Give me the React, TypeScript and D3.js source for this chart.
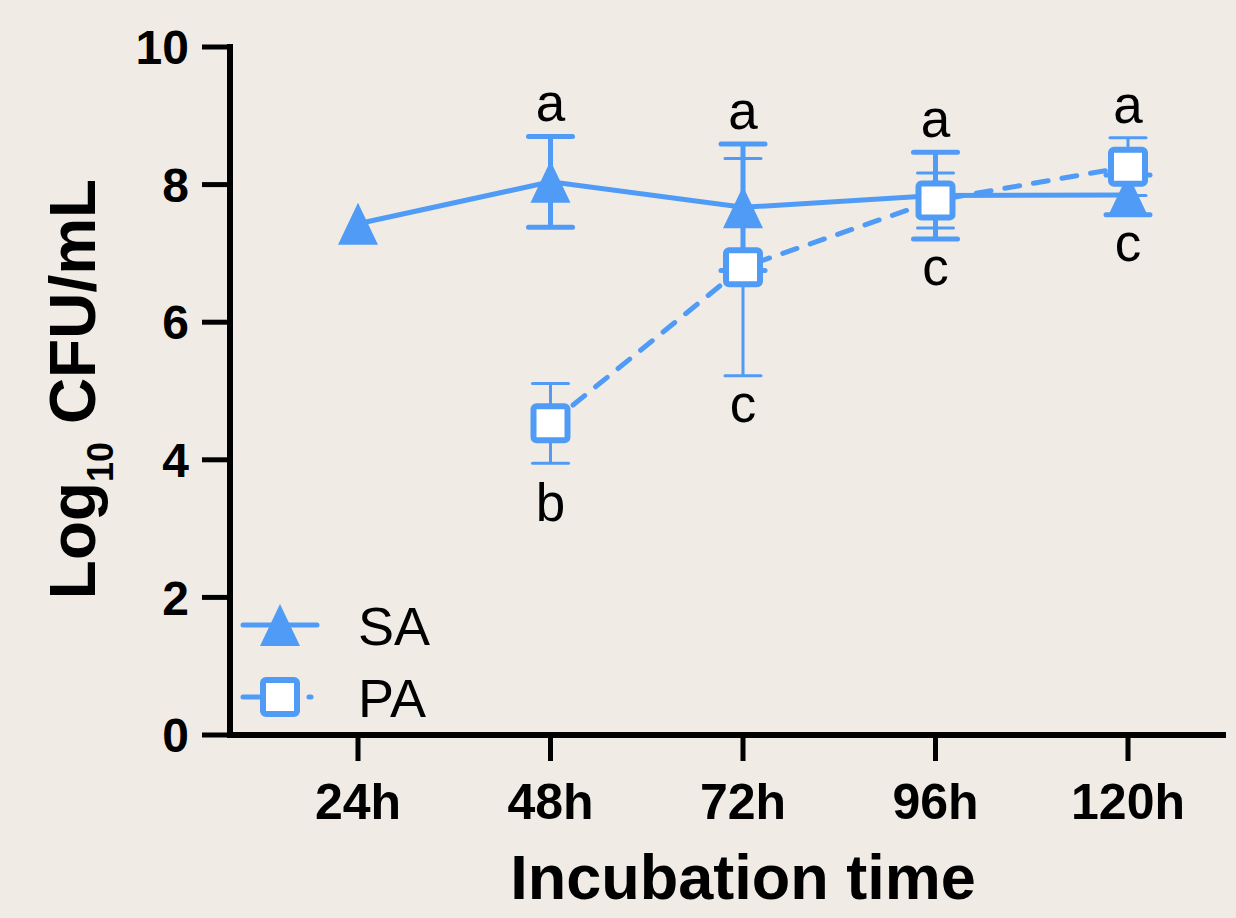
import React from 'react';
import * as d3 from 'd3';

const categories = ['24h', '48h', '72h', '96h', '120h'];
const saMean: (number | null)[] = [7.43, 8.04, 7.67, 7.84, 7.85];
const saErr: (number | null)[] = [0, 0.66, 0.92, 0.63, 0.29];
const paMean: (number | null)[] = [null, 4.53, 6.8, 7.77, 8.26];
const paErr: (number | null)[] = [null, 0.58, 1.58, 0.4, 0.42];
const topLetters = ['', 'a', 'a', 'a', 'a'];
const bottomLetters = ['', 'b', 'c', 'c', 'c'];
const yTicks = [0, 2, 4, 6, 8, 10];
const seriesNames = ['SA', 'PA'];

const W = 1236;
const H = 918;
const BG = '#f0ece5';
const BLUE = '#4f9bf6';

export default function App() {
  const x = d3.scalePoint<string>().domain(categories).range([358, 1128]);
  const y = d3.scaleLinear().domain([0, 10]).range([735, 47]);

  const pts = (means: (number | null)[]) =>
    means
      .map((m, i) => (m == null ? null : ([x(categories[i])!, y(m)] as [number, number])))
      .filter((p): p is [number, number] => p !== null);

  const line = d3.line<[number, number]>();
  const saPath = line(pts(saMean))!;
  const paPath = line(pts(paMean))!;

  const triPath = (cx: number, cy: number) =>
    `M${cx},${cy - 21} L${cx + 20},${cy + 21} L${cx - 20},${cy + 21} Z`;

  const font = '"Liberation Sans", Arial, Helvetica, sans-serif';

  const errBars = (
    means: (number | null)[],
    errs: (number | null)[],
    sw: number,
    capHalf: number,
    key: string
  ) =>
    means.map((m, i) => {
      const e = errs[i];
      if (m == null || e == null || e === 0) return null;
      const cx = x(categories[i])!;
      const y1 = y(m + e);
      const y2 = y(m - e);
      return (
        <g key={key + i} stroke={BLUE} strokeWidth={sw} strokeLinecap="round">
          <line x1={cx} x2={cx} y1={y1} y2={y2} strokeLinecap="butt" />
          <line x1={cx - capHalf} x2={cx + capHalf} y1={y1} y2={y1} />
          <line x1={cx - capHalf} x2={cx + capHalf} y1={y2} y2={y2} />
        </g>
      );
    });

  const letterPositions = categories.map((c, i) => {
    const vals: number[] = [];
    [[saMean, saErr], [paMean, paErr]].forEach(([ms, es]) => {
      const m = ms[i];
      const e = es[i] ?? 0;
      if (m != null) {
        vals.push(m + e, m - e);
      }
    });
    return { cx: x(c)!, top: d3.max(vals) ?? 0, bottom: d3.min(vals) ?? 0 };
  });

  return (
    <svg
      width={W}
      height={H}
      style={{ position: 'absolute', left: 0, top: 0, display: 'block' }}
      fontFamily={font}
    >
      <rect width={W} height={H} fill={BG} />

      {/* axes */}
      <line x1={230} x2={230} y1={44} y2={738} stroke="#000" strokeWidth={6} />
      <line x1={227} x2={1226} y1={735} y2={735} stroke="#000" strokeWidth={6} />
      {yTicks.map((t) => (
        <g key={'yt' + t}>
          <line x1={202} x2={230} y1={y(t)} y2={y(t)} stroke="#000" strokeWidth={5} />
          <text
            x={189}
            y={y(t)}
            dy="0.36em"
            textAnchor="end"
            fontSize={48}
            fontWeight="bold"
          >
            {t}
          </text>
        </g>
      ))}
      {categories.map((c) => (
        <g key={'xt' + c}>
          <line x1={x(c)} x2={x(c)} y1={735} y2={761} stroke="#000" strokeWidth={5} />
          <text x={x(c)} y={819} textAnchor="middle" fontSize={50} fontWeight="bold">
            {c}
          </text>
        </g>
      ))}
      <text x={743} y={899} textAnchor="middle" fontSize={63} fontWeight="bold">
        Incubation time
      </text>
      <text
        transform="translate(95,389) rotate(-90)"
        textAnchor="middle"
        fontSize={64}
        fontWeight="bold"
      >
        Log
        <tspan fontSize={36} dy={18}>
          10
        </tspan>
        <tspan dy={-18}> CFU/mL</tspan>
      </text>

      {/* SA */}
      {errBars(saMean, saErr, 5, 22, 'sae')}
      <path d={saPath} fill="none" stroke={BLUE} strokeWidth={5} />
      {saMean.map((m, i) =>
        m == null ? null : (
          <path key={'sam' + i} d={triPath(x(categories[i])!, y(m))} fill={BLUE} />
        )
      )}

      {/* PA */}
      {errBars(paMean, paErr, 3, 18, 'pae')}
      <path
        d={paPath}
        fill="none"
        stroke={BLUE}
        strokeWidth={5}
        strokeDasharray="15,14"
        strokeLinecap="round"
      />
      {paMean.map((m, i) =>
        m == null ? null : (
          <rect
            key={'pam' + i}
            x={x(categories[i])! - 17}
            y={y(m) - 17}
            width={34}
            height={34}
            rx={3}
            fill="#fff"
            stroke={BLUE}
            strokeWidth={6}
          />
        )
      )}

      {/* significance letters */}
      {letterPositions.map((p, i) => (
        <g key={'let' + i}>
          {topLetters[i] && (
            <text x={p.cx} y={y(p.top) - 15} textAnchor="middle" fontSize={53}>
              {topLetters[i]}
            </text>
          )}
          {bottomLetters[i] && (
            <text
              x={p.cx}
              y={y(p.bottom) + 18 + (bottomLetters[i] === 'b' ? 40 : 28)}
              textAnchor="middle"
              fontSize={53}
            >
              {bottomLetters[i]}
            </text>
          )}
        </g>
      ))}

      {/* legend */}
      <g>
        <line x1={243} x2={317} y1={625} y2={625} stroke={BLUE} strokeWidth={5} strokeLinecap="round" />
        <path d={triPath(280, 625)} fill={BLUE} />
        <text x={358} y={645} fontSize={54}>
          {seriesNames[0]}
        </text>
        <line
          x1={243}
          x2={317}
          y1={697}
          y2={697}
          stroke={BLUE}
          strokeWidth={5}
          strokeLinecap="round"
          strokeDasharray="16,50,2,20"
        />
        <rect x={263} y={680} width={34} height={34} rx={3} fill="#fff" stroke={BLUE} strokeWidth={6} />
        <text x={358} y={717} fontSize={54}>
          {seriesNames[1]}
        </text>
      </g>
    </svg>
  );
}
